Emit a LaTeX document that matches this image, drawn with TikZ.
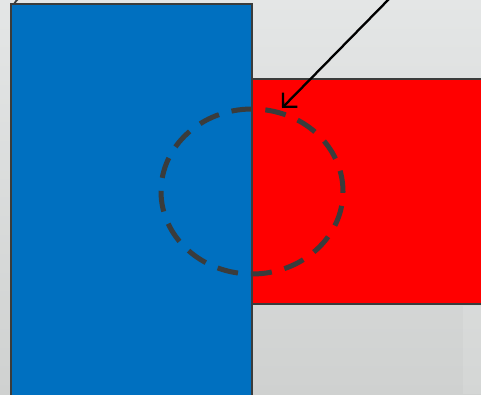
\documentclass[tikz,border=0pt]{standalone}
\usetikzlibrary{arrows.meta,shapes.geometric}
\definecolor{bluefill}{HTML}{0070C0}
\definecolor{redfill}{HTML}{FF0000}
\definecolor{edgegray}{HTML}{3A3C3C}
\definecolor{bgtop}{HTML}{E4E6E6}
\definecolor{bgbot}{HTML}{CFD1D0}
\begin{document}
\begin{tikzpicture}[x=1pt,y=-1pt,
  box/.style={draw=edgegray,line width=2.6pt,inner sep=0pt,outer sep=0pt,rectangle},
  zone/.style={draw=edgegray,line width=5pt,dash pattern=on 21pt off 13pt,ellipse,inner sep=0pt},
  pointer/.style={black,line width=2.3pt,-{Straight Barb[length=10pt,width=20pt,line width=2.3pt]}}]
\useasboundingbox (0,0) rectangle (481,394);
\shade[top color=bgtop,bottom color=bgbot] (0,0) rectangle (481,394);
\fill[white,opacity=0.12] (463,306) rectangle (481,394);
\begin{scope}
\clip (0,0) rectangle (481,394);
\node[box,fill=redfill,minimum width=240pt,minimum height=225pt,anchor=north west] (red) at (252,79) {};
\node[box,fill=bluefill,minimum width=241pt,minimum height=400pt,anchor=north west] (blue) at (11,4) {};
\draw[edgegray,line width=1.8pt] (blue.north west) ++(3,0) .. controls (15,2) and (17,0) .. (19,-2);
\node[zone,minimum width=182pt,minimum height=165pt] (zone) at (252,191.5) {};
\coordinate (src) at (390,-2);
\coordinate (tip) at (282,108);
\draw[pointer] (src) -- (tip);
\end{scope}
\end{tikzpicture}
\end{document}
